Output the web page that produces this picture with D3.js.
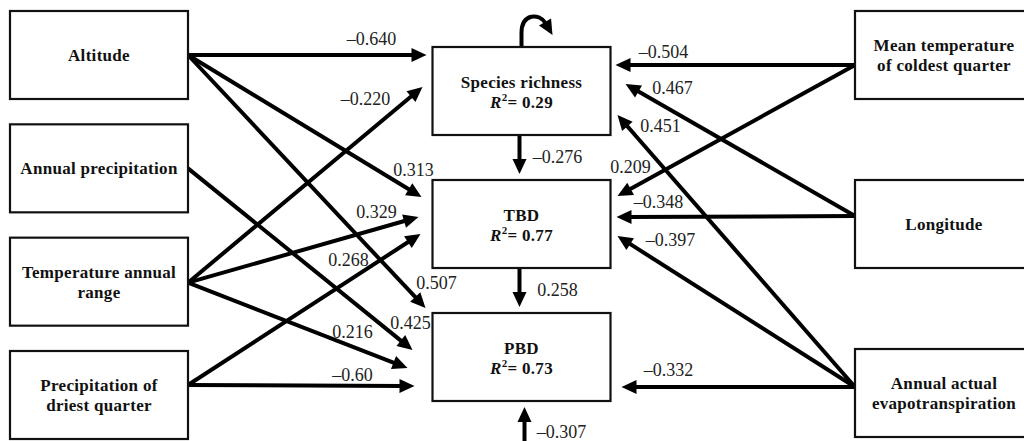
<!DOCTYPE html>
<html>
<head>
<meta charset="utf-8">
<script src="https://cdn.jsdelivr.net/npm/d3@7"></script>
<style>
  body { margin: 0; background: #fff; }
</style>
</head>
<body>
<script>
// predictors (left column)
var predictors = ["Altitude", "Annual precipitation", "Temperature annual range", "Precipitation of driest quarter"];
var predictorLines = [["Altitude"], ["Annual precipitation"], ["Temperature annual", "range"], ["Precipitation of", "driest quarter"]];
// responses (middle column)
var responses = ["Species richness", "TBD", "PBD"];
var rSquared = ["0.29", "0.77", "0.73"];
// right column
var climate = ["Mean temperature of coldest quarter", "Longitude", "Annual actual evapotranspiration"];
var climateLines = [["Mean temperature", "of coldest quarter"], ["Longitude"], ["Annual actual", "evapotranspiration"]];

// paths: from, to, standardised coefficient
var pathFrom = ["Altitude", "Altitude", "Altitude", "Annual precipitation",
	"Temperature annual range", "Temperature annual range", "Temperature annual range",
	"Precipitation of driest quarter", "Precipitation of driest quarter",
	"Mean temperature of coldest quarter", "Mean temperature of coldest quarter",
	"Longitude", "Longitude",
	"Annual actual evapotranspiration", "Annual actual evapotranspiration", "Annual actual evapotranspiration"];
var pathTo = ["Species richness", "TBD", "PBD", "PBD",
	"Species richness", "TBD", "PBD",
	"TBD", "PBD",
	"Species richness", "TBD",
	"Species richness", "TBD",
	"Species richness", "TBD", "PBD"];
var pathCoef = ["-0.640", "0.313", "0.507", "0.425",
	"-0.220", "0.329", "0.216",
	"0.268", "-0.60",
	"-0.504", "0.209",
	"0.467", "-0.348",
	"0.451", "-0.397", "-0.332"];
// vertical paths between responses, plus residual into PBD
var chainFrom = ["Species richness", "TBD", null];
var chainTo = ["TBD", "PBD", "PBD"];
var chainCoef = ["-0.276", "0.258", "-0.307"];

// layout: [gap from box edge, dy from box centre, label dx, label dy]
var pathPorts = [[6,-36,-55,-10],[11,-27,-8,-21],[7,-49,11,-19],[20,-7,-2,-21],
	[10,-4,-57,18],[14,-7,-42,1],[25,11,-55,-30],
	[12,10,-72,32],[18,29,-62,-5],
	[5,-26,48,-7],[7,-28,13,-23],
	[15,-7,47,10],[6,-7,42,-9],
	[7,24,43,17],[7,12,53,10],[11,30,47,-11]];
var srcDy = {"Altitude":0, "Annual precipitation":0, "Temperature annual range":1, "Precipitation of driest quarter":-10,
	"Mean temperature of coldest quarter":10, "Longitude":-8, "Annual actual evapotranspiration":-6};

var W = 1024, H = 441, boxW = 178, boxH = 88;
var serif = "'Liberation Serif', 'Times New Roman', Tinos, 'DejaVu Serif', serif";

var svg = d3.select("body").append("svg").attr("width", W).attr("height", H);

var xCol = d3.scalePoint().domain(["pred", "resp", "clim"]).range([10, 855]);
var yPred = d3.scalePoint().domain(predictors).range([55, 395]);
var yResp = d3.scalePoint().domain(responses).range([91, 357]);
var yClim = d3.scalePoint().domain(climate).range([55, 393]);

function fmt(s){ return s.replace("-", "\u2013"); }

function arrow(g, x1, y1, x2, y2){
	var dx = x2 - x1, dy = y2 - y1, L = Math.sqrt(dx*dx + dy*dy);
	var ux = dx / L, uy = dy / L, px = -uy, py = ux;
	g.append("line")
		.attr("x1", x1).attr("y1", y1)
		.attr("x2", x2 - ux*11).attr("y2", y2 - uy*11)
		.style("stroke", "#000").style("stroke-width", 4);
	var bx = x2 - ux*15, by = y2 - uy*15;
	g.append("polygon")
		.attr("points", [[x2, y2], [bx + px*7, by + py*7], [bx - px*7, by - py*7]].map(function(p){ return p.join(","); }).join(" "))
		.style("fill", "#000");
}

function coefText(g, x, y, s){
	g.append("text")
		.attr("x", x).attr("y", y)
		.attr("text-anchor", "middle")
		.style("font-family", serif)
		.style("font-size", "18px")
		.style("fill", "#222")
		.text(fmt(s));
}

function drawBox(g, x, cy, lines, r2){
	g.append("rect")
		.attr("x", x).attr("y", cy - boxH/2)
		.attr("width", boxW).attr("height", boxH)
		.style("fill", "#fff").style("stroke", "#111").style("stroke-width", 2.2);
	var all = lines.slice();
	if (r2) all.push("R2");
	var n = all.length;
	all.forEach(function(t, i){
		var ty = cy + 6 + (i - (n - 1)/2) * 20 + (r2 ? 1 : 0);
		var txt = g.append("text")
			.attr("x", x + boxW/2).attr("y", ty)
			.attr("text-anchor", "middle")
			.style("font-family", serif)
			.style("font-weight", "bold")
			.style("font-size", "17px")
			.style("letter-spacing", "0.3px")
			.style("fill", "#111");
		if (t === "R2") {
			txt.append("tspan").style("font-style", "italic").text("R");
			txt.append("tspan").attr("dy", -7).style("font-size", "11px").text("2");
			txt.append("tspan").attr("dy", 7).text("= " + r2);
		} else {
			txt.text(t);
		}
	});
}

var gLines = svg.append("g").attr("id", "paths");
var gBoxes = svg.append("g").attr("id", "boxes");
var gText = svg.append("g").attr("id", "coefs");

// boxes
predictors.forEach(function(p, i){ drawBox(gBoxes, xCol("pred"), yPred(p), predictorLines[i]); });
responses.forEach(function(r, i){ drawBox(gBoxes, xCol("resp"), yResp(r), [r], rSquared[i]); });
climate.forEach(function(c, i){ drawBox(gBoxes, xCol("clim"), yClim(c), climateLines[i]); });

// paths from side columns
pathFrom.forEach(function(f, i){
	var port = pathPorts[i];
	var fromLeft = predictors.indexOf(f) >= 0;
	var sx = fromLeft ? xCol("pred") + boxW : xCol("clim");
	var sy = (fromLeft ? yPred(f) : yClim(f)) + srcDy[f];
	var tx = fromLeft ? xCol("resp") - port[0] : xCol("resp") + boxW + port[0];
	var ty = yResp(pathTo[i]) + port[1];
	arrow(gLines, sx, sy, tx, ty);
	coefText(gText, tx + port[2], ty + port[3], pathCoef[i]);
});

// vertical chain
var cx = xCol("resp") + boxW/2;
chainTo.forEach(function(t, i){
	var ty, sy;
	if (chainFrom[i]) {
		sy = yResp(chainFrom[i]) + boxH/2;
		ty = yResp(t) - boxH/2 - 6;
		arrow(gLines, cx - 2, sy, cx - 2, ty);
		coefText(gText, cx + 36, (sy + ty)/2 + 8, chainCoef[i]);
	} else {
		sy = H + 4;
		ty = yResp(t) + boxH/2 + 6;
		arrow(gLines, cx + 3, sy, cx + 3, ty);
		coefText(gText, cx + 40, H - 3, chainCoef[i]);
	}
});

// self-loop on species richness
var loopY = yResp("Species richness") - boxH/2;
gLines.append("path")
	.attr("d", "M" + cx + "," + loopY + " L" + cx + "," + (loopY - 14) +
		" C" + cx + "," + (loopY - 34) + " " + (cx + 18) + "," + (loopY - 34) + " " + (cx + 24) + "," + (loopY - 24))
	.style("fill", "none").style("stroke", "#000").style("stroke-width", 4);
(function(){
	var tipX = cx + 31, tipY = loopY - 12, ux = 0.5, uy = 0.866, px = -uy, py = ux;
	var bx = tipX - ux*15, by = tipY - uy*15;
	gLines.append("polygon")
		.attr("points", [[tipX, tipY], [bx + px*7, by + py*7], [bx - px*7, by - py*7]].map(function(p){ return p.join(","); }).join(" "))
		.style("fill", "#000");
})();
</script>
</body>
</html>
